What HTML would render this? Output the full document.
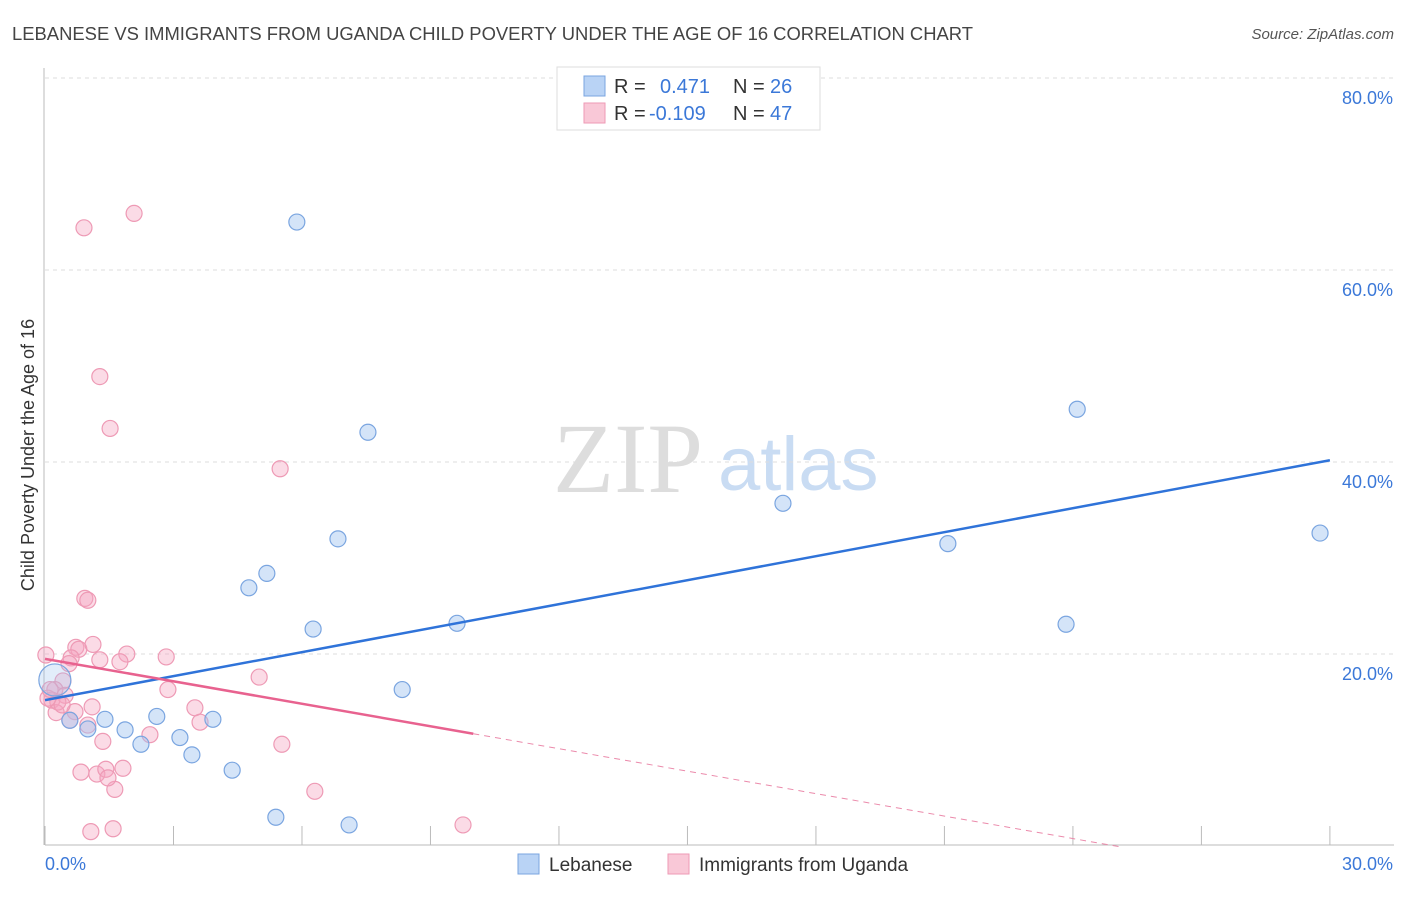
<!DOCTYPE html>
<html><head><meta charset="utf-8"><style>
body{margin:0;background:#fff;font-family:"Liberation Sans",sans-serif}
</style></head><body>
<svg id="chart" width="1406" height="892" xmlns="http://www.w3.org/2000/svg" font-family="Liberation Sans, sans-serif">
<text x="12" y="40" font-size="18" fill="#444" textLength="961" lengthAdjust="spacingAndGlyphs">LEBANESE VS IMMIGRANTS FROM UGANDA CHILD POVERTY UNDER THE AGE OF 16 CORRELATION CHART</text>
<text x="1394" y="39" font-size="15" fill="#555" text-anchor="end" font-style="italic">Source: ZipAtlas.com</text>
<g>
<text x="553" y="492" font-size="100" fill="#ddd" style="font-family:'Liberation Serif',serif">ZIP</text>
<text x="718" y="490" font-size="76" fill="#c9dcf3">atlas</text>
</g>
<g id="grid"></g>
<g id="axes"></g>
<g id="marks"></g>
<g>
<rect x="557" y="67" width="263" height="63" fill="#fff" stroke="#ddd"/>
<rect x="584" y="76" width="21" height="20" fill="#b9d3f5" stroke="#7aa5e0"/>
<rect x="584" y="103" width="21" height="20" fill="#f9c8d7" stroke="#ee9ab5"/>
<text x="614" y="93" font-size="20" fill="#333">R =</text>
<text x="660" y="93" font-size="20" fill="#3b78d8">0.471</text>
<text x="733" y="93" font-size="20" fill="#333">N =</text>
<text x="770" y="93" font-size="20" fill="#3b78d8">26</text>
<text x="614" y="120" font-size="20" fill="#333">R =</text>
<text x="649" y="120" font-size="20" fill="#3b78d8">-0.109</text>
<text x="733" y="120" font-size="20" fill="#333">N =</text>
<text x="770" y="120" font-size="20" fill="#3b78d8">47</text>
</g>
<g>
<rect x="518" y="854" width="21" height="20" fill="#b9d3f5" stroke="#7aa5e0"/>
<text x="549" y="871" font-size="19" fill="#333">Lebanese</text>
<rect x="668" y="854" width="21" height="20" fill="#f9c8d7" stroke="#ee9ab5"/>
<text x="699" y="871" font-size="19" fill="#333">Immigrants from Uganda</text>
</g>
<text transform="translate(34,455) rotate(-90)" font-size="18" fill="#333" text-anchor="middle">Child Poverty Under the Age of 16</text>
</svg>
<script>
const yTicks=[20,40,60,80];
const yTickLabels=["20.0%","40.0%","60.0%","80.0%"];
const xTickLabels=["0.0%","30.0%"];
const blueX=[5.88,7.54,24.10,17.23,6.84,21.08,29.77,5.18,4.76,6.26,9.62,23.84,8.34,2.61,3.92,1.40,1.87,0.58,1.00,2.24,3.15,3.43,4.37,5.39,7.10,0.23];
const blueY=[65.1,43.2,45.6,35.8,32.1,31.6,32.7,28.5,27.0,22.7,23.3,23.2,16.4,13.6,13.3,13.3,12.2,13.2,12.3,10.7,11.4,9.6,8.0,3.1,2.3,17.4];
const pinkX=[2.08,0.91,1.28,1.52,5.49,0.93,1.00,0.72,0.79,1.12,0.02,0.61,0.56,1.28,1.91,1.75,2.83,2.87,5.00,0.42,0.23,0.47,0.16,0.26,0.70,1.10,3.50,3.62,0.58,2.45,1.35,5.53,0.84,1.21,1.42,1.82,1.63,1.47,6.30,1.07,1.59,9.76,0.30,0.07,0.12,1.00,0.40];
const pinkY=[66.0,64.5,49.0,43.6,39.4,25.9,25.7,20.8,20.6,21.1,20.0,19.7,19.1,19.5,20.1,19.3,19.8,16.4,17.7,17.3,16.4,15.8,15.3,14.0,14.1,14.6,14.5,13.0,13.2,11.7,11.0,10.7,7.8,7.6,8.1,8.2,6.0,7.2,5.8,1.6,1.9,2.3,15.1,15.5,16.4,12.7,14.8];
const blueTrend=[15.3,0.833];
const pinkTrend=[19.6,-0.78];
const pinkSolidEnd=10;
const NS="http://www.w3.org/2000/svg";
const X=v=>45+v*42.83, Y=v=>847-v*9.6;
function mk(tag,attrs,parent){const e=document.createElementNS(NS,tag);for(const k in attrs)e.setAttribute(k,attrs[k]);parent.appendChild(e);return e;}
const grid=document.getElementById('grid'),axes=document.getElementById('axes'),marks=document.getElementById('marks');
yTicks.forEach((t,i)=>{
 const l=mk('line',{x1:45,x2:1394,y1:Y(t)-1,y2:Y(t)-1,stroke:'#ddd','stroke-dasharray':'4,4'},grid);
 
 
 const tx=mk('text',{x:1393,y:Y(t)+25,'font-size':18,fill:'#3b78d8','text-anchor':'end'},axes);
 tx.textContent=yTickLabels[i];
 
 
});
const ax=mk('line',{x1:45,x2:1394,y1:845,y2:845,stroke:'#bbb'},axes);


const ay=mk('line',{x1:44,x2:44,y1:68,y2:845,stroke:'#bbb'},axes);


for(let i=0;i<=10;i++){const t=mk('line',{x1:X(i*3),x2:X(i*3),y1:826,y2:845,stroke:'#bbb'},axes);
 
 }
const x0=mk('text',{x:45,y:870,'font-size':18,fill:'#3b78d8'},axes);x0.textContent=xTickLabels[0];


const x1=mk('text',{x:1393,y:870,'font-size':18,fill:'#3b78d8','text-anchor':'end'},axes);x1.textContent=xTickLabels[1];


pinkX.forEach((v,i)=>{const c=mk('circle',{cx:X(v),cy:Y(pinkY[i]),r:8,fill:'rgba(245,165,192,0.4)',stroke:'#ee9ab5','stroke-width':1.2},marks);
 
 });
blueX.forEach((v,i)=>{const big=i==blueX.length-1;const c=mk('circle',{cx:X(v),cy:Y(blueY[i]),r:big?16:8,fill:big?'rgba(160,196,240,0.3)':'rgba(160,196,240,0.45)',stroke:'#7aa5e0','stroke-width':1.2},marks);
 
 });
const bt=mk('line',{x1:X(0),y1:Y(blueTrend[0]),x2:X(30),y2:Y(blueTrend[0]+30*blueTrend[1]),stroke:'#2f73d9','stroke-width':2.5},marks);


const pt=mk('line',{x1:X(0),y1:Y(pinkTrend[0]),x2:X(pinkSolidEnd),y2:Y(pinkTrend[0]+pinkSolidEnd*pinkTrend[1]),stroke:'#e8628f','stroke-width':2.5},marks);


const xe=-pinkTrend[0]/pinkTrend[1];
const pd=mk('line',{x1:X(pinkSolidEnd),y1:Y(pinkTrend[0]+pinkSolidEnd*pinkTrend[1]),x2:X(xe),y2:Y(0),stroke:'#eb8aab','stroke-width':1,'stroke-dasharray':'6,5'},marks);


</script>
</body></html>
